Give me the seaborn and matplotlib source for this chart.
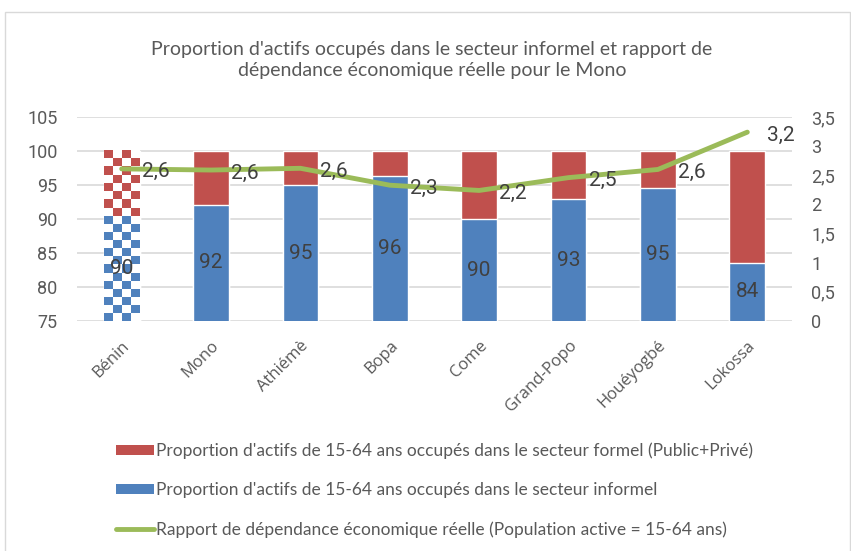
import numpy as np
import pandas as pd
import matplotlib
matplotlib.use('Agg')
import matplotlib.pyplot as plt
import seaborn as sns
from matplotlib.colors import to_rgb
from matplotlib.patches import Rectangle, Patch
from matplotlib.lines import Line2D

# Data
communes = ['Bénin', 'Mono', 'Athiémè', 'Bopa', 'Come', 'Grand-Popo', 'Houéyogbé', 'Lokossa']
informel = [90.4, 92.1, 95.0, 96.3, 90.0, 92.9, 94.6, 83.6]
formel = [9.6, 7.9, 5.0, 3.7, 10.0, 7.1, 5.4, 16.4]
dependance = [2.61, 2.59, 2.62, 2.33, 2.24, 2.46, 2.60, 3.24]

left_ticks = [75, 80, 85, 90, 95, 100, 105]
right_ticks = [0, 0.5, 1, 1.5, 2, 2.5, 3, 3.5]

title = ("Proportion d'actifs occupés dans le secteur informel et rapport de\n"
         "dépendance économique réelle pour le Mono")
lab_formel = "Proportion d'actifs de 15-64 ans occupés dans le secteur formel (Public+Privé)"
lab_informel = "Proportion d'actifs de 15-64 ans occupés dans le secteur informel"
lab_dep = "Rapport de dépendance économique réelle (Population active = 15-64 ans)"

RED = '#C0504D'
BLUE = '#4F81BD'
GREEN = '#9BBB59'
GRID = '#D9D9D9'
TXT = '#595959'
LBL = '#404040'
NUM_FONT = ['Roboto', 'DejaVu Sans']
CAT_FONT = ['Open Sans', 'DejaVu Sans']

df = pd.DataFrame({'commune': communes, 'informel': informel, 'formel': formel,
                   'dependance': dependance})
df['total'] = df['informel'] + df['formel']

sns.set_style('white')
plt.rcParams['font.family'] = ['Lato', 'DejaVu Sans']

fig = plt.figure(figsize=(8.51, 5.51), dpi=100)
ax = fig.add_axes([77 / 851, 1 - 321 / 551, (792 - 77) / 851, (321 - 117) / 551])

sns.barplot(data=df, x='commune', y='total', color=RED, width=0.4, saturation=1, ax=ax)
sns.barplot(data=df, x='commune', y='informel', color=BLUE, width=0.4, saturation=1, ax=ax)

n = len(communes)
ax.set_xlim(-0.5, n - 0.5)
ax.set_ylim(75, 105)
ax.set_yticks(left_ticks)
ax.set_xlabel('')
ax.set_ylabel('')
for s in ax.spines.values():
    s.set_visible(False)
ax.yaxis.grid(True, color=GRID, lw=1.2)
ax.set_axisbelow(True)
ax.tick_params(axis='y', length=0, labelsize=13, labelcolor=TXT, pad=14)
ax.tick_params(axis='x', length=0, labelsize=12, labelcolor=TXT, pad=12)
ax.set_xticks(range(n))
ax.set_xticklabels(communes, rotation=45, ha='right', rotation_mode='anchor',
                   family=CAT_FONT)
ax.set_yticklabels([str(t) for t in left_ticks], family=NUM_FONT)


# checkerboard fill for the national (Bénin) bar
def checker(patch, color, y0, y1, sq=8.0):
    x0, w = patch.get_x(), patch.get_width()
    t0 = ax.transData.transform((x0, y0))
    t1 = ax.transData.transform((x0 + w, y1))
    nx = max(1, int(round((t1[0] - t0[0]) / sq)))
    ny = max(1, int(round((t1[1] - t0[1]) / sq)))
    grid = np.add.outer(np.arange(ny), np.arange(nx)) % 2
    img = np.ones((ny, nx, 3))
    img[grid == 0] = to_rgb(color)
    patch.set_facecolor('white')
    ax.imshow(img, extent=(x0, x0 + w, y0, y1), aspect='auto',
              interpolation='nearest', zorder=patch.get_zorder() + 0.1)


red_p = ax.patches[0]
blue_p = ax.patches[n]
checker(red_p, RED, informel[0], informel[0] + formel[0])
checker(blue_p, BLUE, 75, informel[0])
ax.set_xlim(-0.5, n - 0.5)
ax.set_ylim(75, 105)

for i, v in enumerate(informel):
    ax.text(i, (75 + v) / 2, f"{v:.0f}", ha='center', va='center',
            fontsize=15, color=LBL, zorder=5, family=NUM_FONT)

ax2 = ax.twinx()
sns.lineplot(x=np.arange(n), y=df['dependance'], color=GREEN, lw=3.5, ax=ax2)
ax2.set_ylim(0, 3.5)
ax2.set_yticks(right_ticks)
ax2.set_yticklabels([f"{t:g}".replace('.', ',') for t in right_ticks], family=NUM_FONT)
ax2.set_xlim(-0.5, n - 0.5)
ax2.set_ylabel('')
ax2.set_xlabel('')
for s in ax2.spines.values():
    s.set_visible(False)
ax2.tick_params(axis='y', length=0, labelsize=13, labelcolor=TXT, pad=14)

for i, v in enumerate(dependance):
    ax2.annotate(f"{v:.1f}".replace('.', ','), (i, v), xytext=(20, -3),
                 textcoords='offset pixels', ha='left', va='center',
                 fontsize=15, color=LBL, family=NUM_FONT)

fig.text(432 / 851, 1 - 60 / 551, title, ha='center', va='center',
         fontsize=14, color=TXT, linespacing=1.3)

handles = [Patch(facecolor=RED, edgecolor='none'),
           Patch(facecolor=BLUE, edgecolor='none'),
           Line2D([0], [0], color=GREEN, lw=3.5)]
fig.legend(handles, [lab_formel, lab_informel, lab_dep], loc='upper left',
           bbox_to_anchor=(100 / 851, 1 - 427 / 551), frameon=False,
           fontsize=12.5, labelcolor=TXT, labelspacing=1.32, handlelength=2.2,
           handletextpad=0.12, handleheight=0.55)

fig.add_artist(Rectangle((5 / 851, -0.01), 845 / 851, 1 - 12 / 551 + 0.01,
                         transform=fig.transFigure, fill=False,
                         edgecolor=GRID, lw=1))

fig.savefig('out.png', dpi=100)
